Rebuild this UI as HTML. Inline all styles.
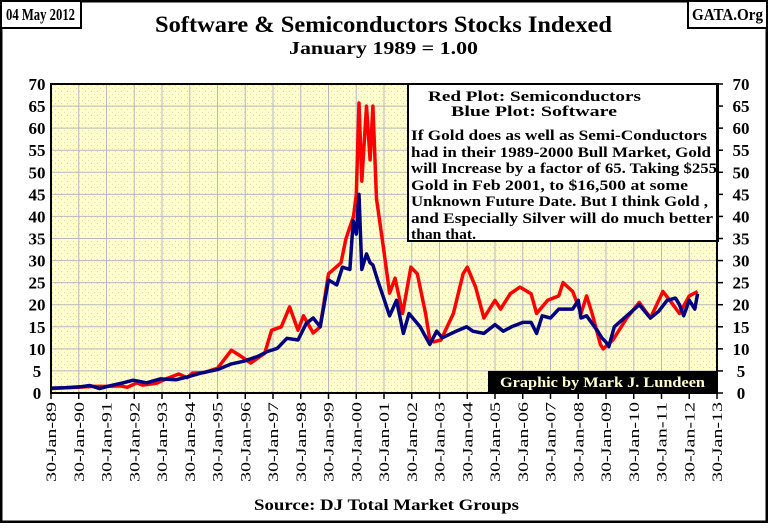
<!DOCTYPE html>
<html><head><meta charset="utf-8"><style>
body{margin:0;width:768px;height:523px;background:#fff;overflow:hidden;font-family:"Liberation Serif",serif;}
</style></head><body>
<svg id="c" width="768" height="523" xmlns="http://www.w3.org/2000/svg">
<defs><pattern id="dots" width="6" height="6" patternUnits="userSpaceOnUse"><rect width="6" height="6" fill="#ffffcc"/><rect x="1" y="1" width="1" height="1" fill="#f0c8b8"/><rect x="4" y="4" width="1" height="1" fill="#f0d0c0"/></pattern></defs>
<rect x="1" y="1" width="766" height="521" fill="#fff" stroke="#000" stroke-width="3"/>
<g><rect x="1" y="1" width="80" height="27" fill="#fff" stroke="#000" stroke-width="2"/><text x="6" y="20" textLength="69" lengthAdjust="spacingAndGlyphs" font-weight="bold" font-size="17">04 May 2012</text></g>
<g><rect x="688" y="1" width="79" height="27" fill="#fff" stroke="#000" stroke-width="2"/><text x="692" y="20" textLength="71" lengthAdjust="spacingAndGlyphs" font-weight="bold" font-size="17">GATA.Org</text></g>
<text x="155" y="32" textLength="457" lengthAdjust="spacingAndGlyphs" font-weight="bold" font-size="23">Software &amp; Semiconductors  Stocks Indexed</text>
<text x="289" y="54" textLength="189" lengthAdjust="spacingAndGlyphs" font-weight="bold" font-size="18">January 1989 = 1.00</text>
<rect x="51" y="84" width="666" height="309" fill="url(#dots)"/>
<g id="grid"></g><g id="axes"></g><g id="series"></g>
<g><rect x="408" y="84" width="310" height="157" fill="#fff" stroke="#000" stroke-width="2"/>
<g font-weight="bold" font-size="15">
<text x="428" y="101" textLength="213" lengthAdjust="spacingAndGlyphs">Red Plot: Semiconductors</text>
<text x="451" y="116" textLength="166" lengthAdjust="spacingAndGlyphs">Blue Plot: Software</text>
<text x="411" y="140" textLength="296" lengthAdjust="spacingAndGlyphs">If Gold does as well as Semi-Conductors</text>
<text x="411" y="157" textLength="300" lengthAdjust="spacingAndGlyphs">had in their 1989-2000 Bull Market, Gold</text>
<text x="411" y="173" textLength="306" lengthAdjust="spacingAndGlyphs">will Increase by a factor of 65.  Taking $255</text>
<text x="411" y="190" textLength="277" lengthAdjust="spacingAndGlyphs">Gold in Feb 2001, to $16,500 at some</text>
<text x="411" y="206" textLength="297" lengthAdjust="spacingAndGlyphs">Unknown Future Date.  But I think Gold ,</text>
<text x="411" y="223" textLength="302" lengthAdjust="spacingAndGlyphs">and Especially Silver will do much better</text>
<text x="411" y="239" textLength="65" lengthAdjust="spacingAndGlyphs">than that.</text>
</g></g>
<g><rect x="488" y="371" width="229" height="22" fill="#000"/><text x="500" y="387" textLength="205" lengthAdjust="spacingAndGlyphs" fill="#ffffcc" font-weight="bold" font-size="15">Graphic by Mark J. Lundeen</text></g>
<rect x="51" y="84" width="666" height="309" fill="none" stroke="#000" stroke-width="2"/>
<text x="254" y="510" textLength="265" lengthAdjust="spacingAndGlyphs" font-weight="bold" font-size="16">Source: DJ  Total Market Groups</text>
</svg>
<script>
const yTicks=[0,5,10,15,20,25,30,35,40,45,50,55,60,65,70];
const xYears=[1989,1990,1991,1992,1993,1994,1995,1996,1997,1998,1999,2000,2001,2002,2003,2004,2005,2006,2007,2008,2009,2010,2011,2012,2013];
const semiYears=[1989,1989.5,1990,1990.5,1991,1991.5,1991.75,1992.1,1992.3,1992.8,1993.15,1993.6,1993.9,1994.1,1994.5,1995,1995.5,1995.85,1996.2,1996.7,1996.95,1997.3,1997.6,1997.9,1998.1,1998.45,1998.7,1999,1999.45,1999.63,1999.9,2000,2000.1,2000.2,2000.37,2000.5,2000.6,2000.73,2000.98,2001.2,2001.4,2001.67,2001.97,2002.2,2002.5,2002.65,2002.8,2003.05,2003.5,2003.85,2004.0,2004.3,2004.6,2005.0,2005.2,2005.55,2005.9,2006.3,2006.5,2006.9,2007.3,2007.45,2007.8,2008.1,2008.3,2008.5,2008.8,2008.9,2009.25,2009.75,2010.2,2010.6,2011.05,2011.3,2011.65,2012.0,2012.3];
const semiValues=[1,1.2,1.3,1.5,1.5,1.6,1.3,2.3,1.8,2.2,3.2,4.3,3.5,4.5,4.6,5.6,9.7,8.3,6.8,9,14.2,15,19.5,14.2,17.5,13.6,15,27,29.5,35,40,45,65.7,48,65,52.8,65,44,33,22.6,26,18,28.5,27,18,12,11.6,12,18,27,28.5,24,17,21,19,22.5,24,22.5,18,21,22,25,23,18,22,18,11,10,12,17,20.5,17,23,21,18,22,23];
const softYears=[1989,1989.5,1990.05,1990.4,1990.75,1991.1,1991.6,1991.96,1992.45,1992.93,1993.5,1993.9,1994.4,1995,1995.5,1995.95,1996.45,1996.8,1997.15,1997.5,1997.9,1998.2,1998.45,1998.7,1999.0,1999.3,1999.5,1999.77,1999.89,2000.0,2000.1,2000.2,2000.37,2000.5,2000.6,2000.8,2000.98,2001.2,2001.45,2001.7,2001.9,2002.3,2002.65,2002.9,2003.1,2003.6,2003.98,2004.2,2004.6,2005.0,2005.3,2005.6,2006.0,2006.3,2006.5,2006.7,2007.0,2007.3,2007.8,2008.0,2008.1,2008.3,2008.7,2008.85,2009.0,2009.1,2009.3,2009.75,2010.2,2010.6,2010.9,2011.2,2011.5,2011.65,2011.8,2012.0,2012.2,2012.3];
const softValues=[1.1,1.2,1.4,1.7,1.0,1.6,2.3,2.9,2.3,3.2,3.0,3.6,4.5,5.3,6.6,7.2,8.3,9.4,10.1,12.4,12,15.8,17,15,25.6,24.5,28.5,28,39,36,45,28,31.5,29.5,29,25,21.7,17.5,21,13.5,18,15,11,14,12.5,14,15,14,13.5,15.5,14,15,16,16,13.5,17.5,17,19,19,21,17,17.5,14,12.5,11.5,10.5,15,17.5,20,17,18.5,21,21.5,20,17.5,21,19,22.5];
const NS="http://www.w3.org/2000/svg";
const X0=51,X1=717,Y0=393,Y1=84;
const xs=y=>X0+(y-1989)/(2013-1989)*(X1-X0);
const ys=v=>Y0-v/70*(Y0-Y1);
function mk(tag,attrs,parent){const e=document.createElementNS(NS,tag);for(const k in attrs)e.setAttribute(k,attrs[k]);parent.appendChild(e);return e;}
const grid=document.getElementById('grid'),axes=document.getElementById('axes'),ser=document.getElementById('series');
yTicks.forEach(t=>{
  const l=mk('line',{x1:X0,x2:X1,y1:ys(t),y2:ys(t),stroke:'#b8b8c0','stroke-width':1},grid);
  
  
  const a=mk('text',{x:37,y:ys(t)+6,'text-anchor':'middle','font-weight':'bold','font-size':17},axes);a.textContent=t;
  
  
  const b=mk('text',{x:741,y:ys(t)+6,'text-anchor':'middle','font-weight':'bold','font-size':17},axes);b.textContent=t;
  
  
  const tk=mk('line',{x1:X1,x2:X1+6,y1:ys(t),y2:ys(t),stroke:'#000','stroke-width':1.5},axes);
  
  
});
xYears.forEach(yr=>{
  const x=xs(yr);
  const l=mk('line',{x1:x,x2:x,y1:Y1,y2:Y0,stroke:'#b8b8c0','stroke-width':1},grid);
  
  
  const tk=mk('line',{x1:x,x2:x,y1:Y0,y2:Y0+6,stroke:'#000','stroke-width':1.5},axes);
  
  
  const t=mk('text',{transform:`translate(${x+5},402) rotate(-90)`,'text-anchor':'end','font-size':15,textLength:80,lengthAdjust:'spacingAndGlyphs'},axes);
  t.textContent='30-Jan-'+String(yr).slice(2);
  
  
});
function line(yrs,vals,color,name){
  const d=yrs.map((y,i)=>(i?'L':'M')+xs(y).toFixed(1)+','+ys(vals[i]).toFixed(1)).join('');
  const p=mk('path',{d:d,fill:'none',stroke:color,'stroke-width':3.5,'stroke-linejoin':'round'},ser);
  
  
}
line(semiYears,semiValues,'#ff0000','semiconductors-line');
line(softYears,softValues,'#000080','software-line');
</script>
</body></html>
